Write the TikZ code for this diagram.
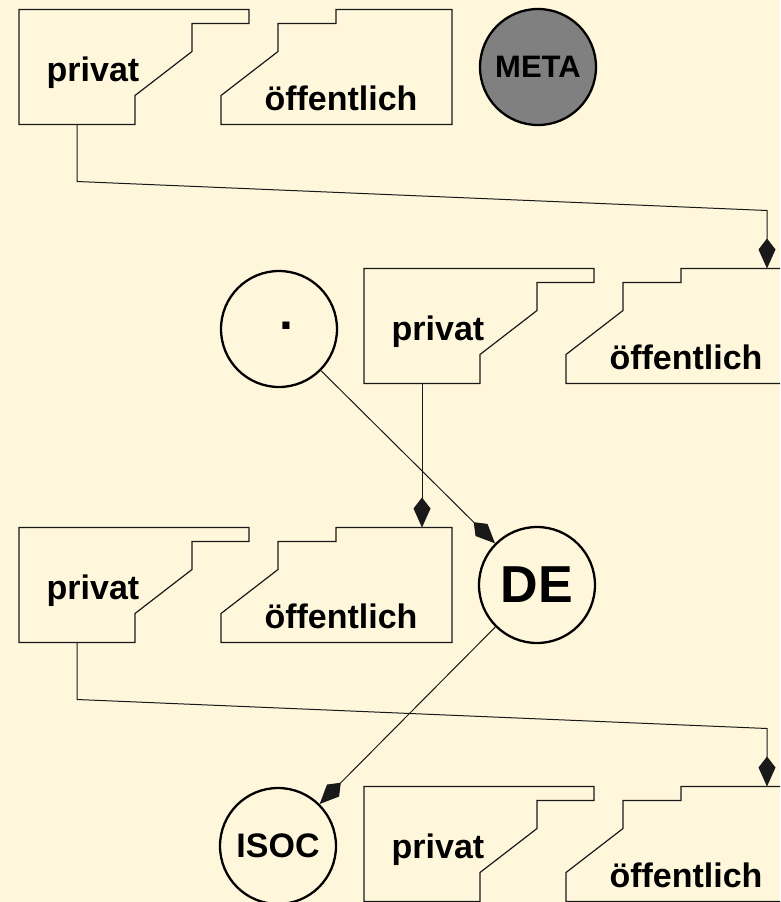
\documentclass[tikz,border=0pt]{standalone}
\usepackage{fontspec}
\setmainfont{Liberation Sans}
\usepackage{tikz}
\usetikzlibrary{arrows.meta, calc}
\definecolor{mybg}{RGB}{255,247,220}
\definecolor{mydark}{RGB}{25,25,25}
\definecolor{mygray}{RGB}{128,128,128}
\tikzset{
  keyline/.style={draw=mydark, line width=1.2pt, line join=miter},
  keytext/.style={font=\fontsize{34}{40}\selectfont\bfseries,
    anchor=base, inner sep=0pt},
  ring/.style={circle, draw=black, line width=2.3pt,
    minimum size=116pt, inner sep=0pt,
    font=\fontsize{34}{40}\selectfont\bfseries},
  metaring/.style={ring, fill=mygray,
    font=\fontsize{31}{36}\selectfont\bfseries},
  arrow/.style={-{Kite[length=30pt, width=17pt, inset=11pt]},
    line width=1pt, color=mydark},
  keypair/.pic={
    \draw[keyline] (0,0) -- (230,0) -- (230,14) -- (173,14) -- (173,42)
      -- (116,86) -- (116,115) -- (0,115) -- cycle;
    \draw[keyline] (202,115) -- (202,86) -- (259,42) -- (259,14)
      -- (317,14) -- (317,0) -- (433,0) -- (433,115) -- cycle;
    \node[keytext] (-priv) at (74,72) {privat};
    \node[keytext] (-pub) at (322,101) {öffentlich};
    \coordinate (-privbot) at (58,115);
    \coordinate (-pubtop) at (403,0);
  }
}

\begin{document}
\begin{tikzpicture}[x=1pt, y=-1pt]
  \useasboundingbox (0,0) rectangle (780,902);
  \fill[mybg] (0,0) rectangle (780,902);
  \clip (0,0) rectangle (780,902);

  % key pairs
  \pic (k1) at (19,9.5) {keypair};
  \pic (k2) at (364,268.5) {keypair};
  \pic (k3) at (19,527.5) {keypair};
  \pic (k4) at (364,786.5) {keypair};

  % circles
  \node[metaring] (meta) at (538,67) {META};
  \node[ring, font=\fontsize{50}{56}\selectfont\bfseries] (dot) at (279,329)
    {\hspace*{14pt}\raisebox{6pt}{.}};
  \node[ring, font=\fontsize{52}{58}\selectfont\bfseries] (de) at (537,585) {DE};
  \node[ring] (isoc) at (278,846) {ISOC};

  % Arrows
  \draw[arrow] (k1-privbot) -- ++(0,57) -- ($(k2-pubtop)+(0,-58)$) -- (k2-pubtop);
  \draw[arrow] (k2-privbot) -- (k3-pubtop);
  \draw[arrow] (dot) -- (de);
  \draw[arrow] (de) -- (isoc);
  \draw[arrow] (k3-privbot) -- ++(0,57) -- ($(k4-pubtop)+(0,-58)$) -- (k4-pubtop);
\end{tikzpicture}
\end{document}
